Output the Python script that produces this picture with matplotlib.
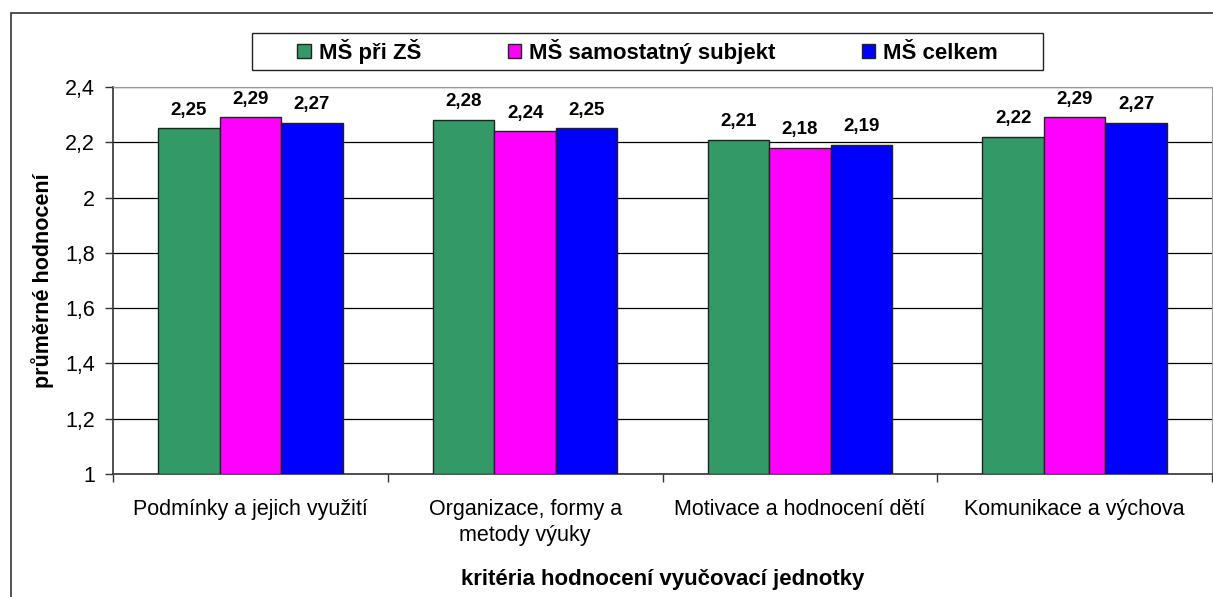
import matplotlib
matplotlib.use("Agg")
import matplotlib.pyplot as plt
from matplotlib.patches import Rectangle
import numpy as np

plt.rcParams['font.family'] = ['Liberation Sans', 'DejaVu Sans']

categories = ["Podmínky a jejich využití", "Organizace, formy a\nmetody výuky",
              "Motivace a hodnocení dětí", "Komunikace a výchova"]
series_names = ["MŠ při ZŠ", "MŠ samostatný subjekt", "MŠ celkem"]
ms_pri_zs = [2.25, 2.28, 2.21, 2.22]
ms_samostatny = [2.29, 2.24, 2.18, 2.29]
ms_celkem = [2.27, 2.25, 2.19, 2.27]
yticks = [1, 1.2, 1.4, 1.6, 1.8, 2, 2.2, 2.4]
ytick_labels = ["1", "1,2", "1,4", "1,6", "1,8", "2", "2,2", "2,4"]
colors = ["#339966", "#FF00FF", "#0000FF"]

W, H = 1213, 597
fig = plt.figure(figsize=(W/100, H/100), dpi=100)
ax = fig.add_axes([113/W, 1-474/H, (1212-113)/W, (474-87)/H])

# outer border
fig.patches.append(Rectangle((11/W, -0.1), 1.2, 1-13/H+0.1, transform=fig.transFigure,
                             fill=False, edgecolor="#333333", linewidth=1.2))
# legend frame
fig.patches.append(Rectangle((252/W, 1-70/H), (1043-252)/W, (70-33)/H,
                             transform=fig.transFigure, fill=True, facecolor="white",
                             edgecolor="#222222", linewidth=1.0, zorder=5))

x = np.arange(len(categories))
bw = 0.224
all_series = [ms_pri_zs, ms_samostatny, ms_celkem]
for i, (vals, name, c) in enumerate(zip(all_series, series_names, colors)):
    pos = x + (i - 1) * bw
    ax.bar(pos, np.array(vals) - 1, bottom=1, width=bw, color=c,
           edgecolor="#222222", linewidth=1.0, label=name, zorder=3)
    for p, v in zip(pos, vals):
        ax.annotate(f"{v:.2f}".replace(".", ","), (p, v), xytext=(0, 7),
                    textcoords="offset points", ha="center", va="bottom",
                    fontsize=13.5, fontweight="bold")

ax.set_ylim(1, 2.4)
ax.set_xlim(-0.5, len(categories) - 0.5)
ax.set_yticks(yticks)
ax.set_yticklabels(ytick_labels, fontsize=15.5)
ax.yaxis.grid(True, color="black", linewidth=0.9, zorder=0)
ax.set_axisbelow(True)
ax.set_xticks(x)
ax.set_xticklabels(categories, fontsize=15.5, linespacing=1.3)
ax.tick_params(axis="x", length=0, pad=18)
ax.set_xticks(np.arange(len(categories) + 1) - 0.5, minor=True)
ax.tick_params(axis="x", which="minor", length=6, width=1, color="#333333")
ax.tick_params(axis="y", length=6, width=1, color="#333333", pad=7)

for s in ["top", "right"]:
    ax.spines[s].set_color("#999999")
for s in ["left", "bottom"]:
    ax.spines[s].set_color("#333333")
    ax.spines[s].set_linewidth(1.2)

ax.set_ylabel("průměrné hodnocení", fontsize=15.5, fontweight="bold", labelpad=8)
ax.set_xlabel("kritéria hodnocení vyučovací jednotky", fontsize=16, fontweight="bold", labelpad=17)

handles, labels = ax.get_legend_handles_labels()
leg = fig.legend(handles, labels, loc="center", bbox_to_anchor=((252+1043)/2/W, 1-(33+70)/2/H),
                 ncol=3, frameon=False, prop={"weight": "bold", "size": 16},
                 handlelength=0.6, handleheight=0.6, handletextpad=0.35,
                 columnspacing=3.9, borderpad=0.2)
leg.set_zorder(6)

fig.savefig("out.png", dpi=100)
